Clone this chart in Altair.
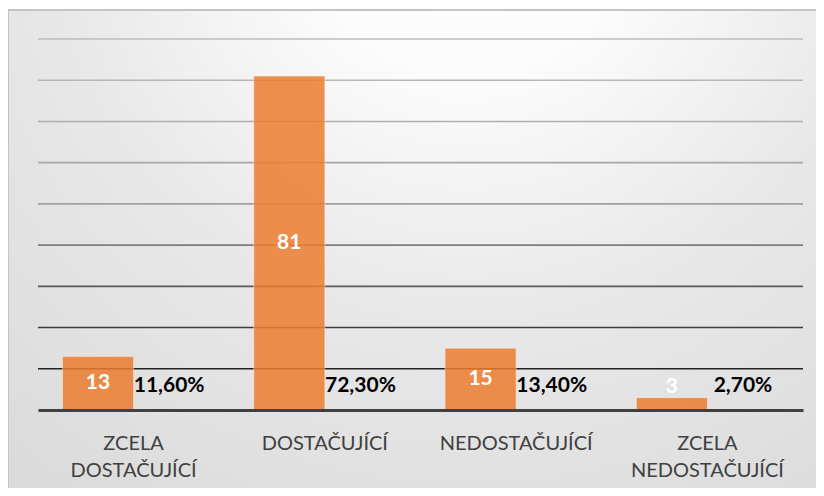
import altair as alt
import pandas as pd

categories = ["ZCELA DOSTAČUJÍCÍ", "DOSTAČUJÍCÍ", "NEDOSTAČUJÍCÍ", "ZCELA NEDOSTAČUJÍCÍ"]
counts = [13, 81, 15, 3]
percents = [11.6, 72.3, 13.4, 2.7]
grid_values = [10, 20, 30, 40, 50, 60, 70, 80, 90]

rows = []
for c, n, p in zip(categories, counts, percents):
    rows.append({"cat": c, "series": "n", "value": n})
    rows.append({"cat": c, "series": "pct", "value": p})
df = pd.DataFrame(rows)

W, H = 765, 371
FONT = "Lato"

x_axis = alt.Axis(
    title=None,
    ticks=False,
    domain=True,
    domainColor="#404040",
    domainWidth=3,
    grid=False,
    labelAngle=0,
    labelFont=FONT,
    labelFontSize=20,
    labelColor="#404040",
    labelPadding=23,
    labelLineHeight=27,
    labelExpr="split(datum.value, ' ')",
    zindex=1,
)
x_enc = alt.X(
    "cat:N",
    sort=categories,
    scale=alt.Scale(paddingInner=0.2565, paddingOuter=0.128),
    axis=x_axis,
)
xo_enc = alt.XOffset("series:N", sort=["n", "pct"], scale=alt.Scale(domain=["n", "pct"]))
y_scale = alt.Scale(domain=[0, 90], nice=False, zero=True)

bg = alt.Chart(pd.DataFrame({"a": [0]})).mark_rect(
    fill={
        "gradient": "radial",
        "x1": 0.55, "y1": 0.06, "r1": 0,
        "x2": 0.55, "y2": 0.06, "r2": 1.0,
        "stops": [
            {"offset": 0, "color": "#ffffff"},
            {"offset": 0.2, "color": "#fcfcfc"},
            {"offset": 0.5, "color": "#e8e8e8"},
            {"offset": 1, "color": "#d6d6d6"},
        ],
    },
    stroke="#c4c4c4",
    strokeWidth=2,
).encode(
    x=alt.value(-30),
    x2=alt.value(W + 40),
    y=alt.value(-29),
    y2=alt.value(H + 120),
)

grid = alt.Chart(pd.DataFrame({"g": grid_values})).mark_rule(strokeWidth=1.6).encode(
    y=alt.Y("g:Q", scale=y_scale, axis=None),
    color=alt.Color(
        "g:Q",
        scale=alt.Scale(domain=[10, 30, 50, 90], range=["#222222", "#5a5a5a", "#a0a0a0", "#bdbdbd"]),
        legend=None,
    ),
)

base = alt.Chart(df)

bars = base.transform_filter("datum.series == 'n'").mark_bar(
    color="#ED7D31", opacity=0.85, stroke="#ffffff", strokeOpacity=0.45, strokeWidth=1
).encode(
    x=x_enc,
    xOffset=xo_enc,
    y=alt.Y("value:Q", scale=y_scale, axis=None),
)

count_text = base.transform_filter("datum.series == 'n'").transform_calculate(
    ly="max(datum.value / 2, 5.7)"
).mark_text(
    font=FONT, fontSize=21, fontWeight="bold", color="#ffffff", baseline="middle"
).encode(
    x=x_enc,
    xOffset=xo_enc,
    y=alt.Y("ly:Q", scale=y_scale, axis=None),
    text=alt.Text("value:Q", format="d"),
)

pct_text = base.transform_filter("datum.series == 'pct'").transform_calculate(
    lbl="replace(format(datum.value / 100, '.2%'), '.', ',')"
).mark_text(
    font=FONT, fontSize=21, fontWeight="bold", color="#000000", baseline="middle", dy=-24
).encode(
    x=x_enc,
    xOffset=xo_enc,
    y=alt.datum(0, scale=y_scale),
    text="lbl:N",
)

chart = alt.layer(bg, grid, bars, count_text, pct_text).properties(
    width=W,
    height=H,
    autosize=alt.AutoSizeParams(type="none"),
    padding={"left": 30, "top": 31, "right": 13, "bottom": 78},
).configure_view(stroke=None).configure(background="#ffffff")

chart.save("out.html", embed_options={"renderer": "svg", "actions": False})
